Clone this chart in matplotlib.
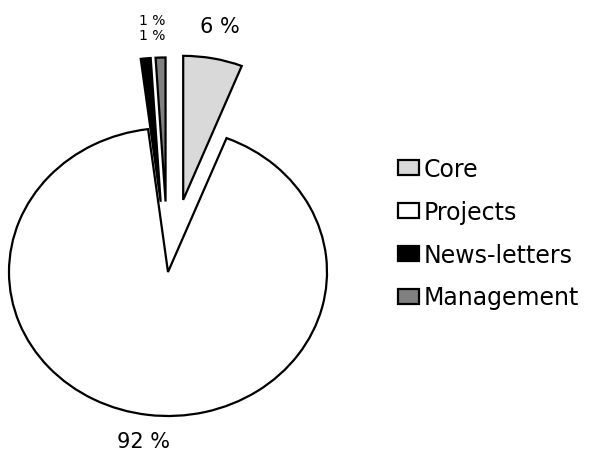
import matplotlib
matplotlib.use('Agg')
import matplotlib.pyplot as plt

categories = ['Core', 'Projects', 'News-letters', 'Management']
shares = [6, 92, 1, 1]
colors = ['#d9d9d9', '#ffffff', '#000000', '#808080']
explode = [0.51, 0.0, 0.49, 0.49]

fig = plt.figure(figsize=(5.95, 4.56), dpi=100)
ax = fig.add_axes([0, 0, 1, 1])

wedges, texts, autotexts = ax.pie(
    shares, colors=colors, explode=explode, startangle=90, counterclock=False,
    autopct='%.0f %%', pctdistance=1.23,
    wedgeprops=dict(edgecolor='black', linewidth=1.6),
    textprops=dict(fontsize=15, color='black'))

# pull the 92 % label in a little so it stays inside the figure
x1, y1 = autotexts[1].get_position()
autotexts[1].set_position((x1, y1 + 0.05))

# the two 1 % labels sit on top of each other in the original, stack them
autotexts[2].set_fontsize(10)
autotexts[3].set_fontsize(10)
x2, y2 = autotexts[2].get_position()
autotexts[2].set_position((x2 + 0.06, y2 - 0.07))
autotexts[3].set_position((x2 + 0.06, y2 + 0.04))

# squeeze the pie into an ellipse like the original (wider than tall)
ax.set_aspect('auto')
px_x, px_y = 159, 144
cx, cy = 168, 273
ax.set_xlim(-cx / px_x, (595 - cx) / px_x)
ax.set_ylim(-(456 - cy) / px_y, cy / px_y)
ax.axis('off')

fig.legend(wedges, categories, loc='upper left', bbox_to_anchor=(386 / 595, 1 - 146 / 456),
           frameon=False, fontsize=17, handlelength=0.9, handleheight=0.6,
           handletextpad=0.2, labelspacing=0.8, borderpad=0)

fig.savefig('out.png', dpi=100)
